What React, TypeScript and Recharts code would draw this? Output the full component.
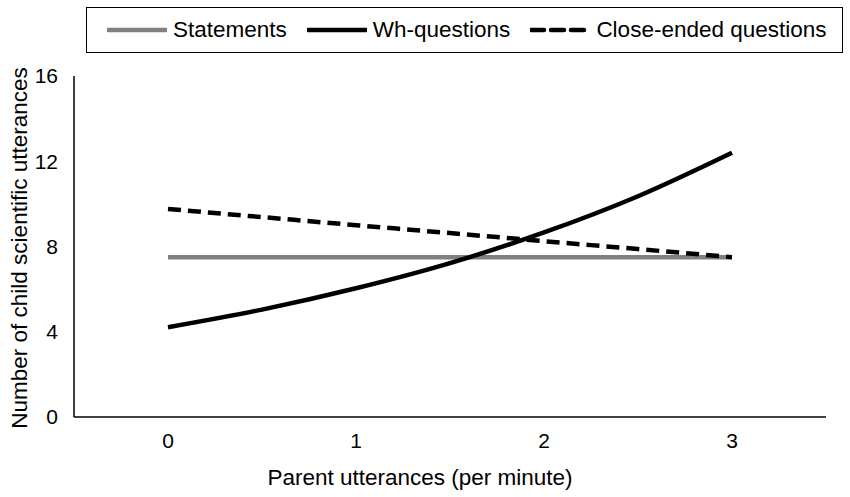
import React from 'react';
import { LineChart, Line, XAxis, YAxis } from 'recharts';

// values
const parentRate = [0, 0.5, 1, 1.5, 2, 2.5, 3];
const statements = [7.49, 7.49, 7.49, 7.49, 7.49, 7.49, 7.49];
const whQuestions = [4.21, 5.04, 6.04, 7.22, 8.66, 10.36, 12.4];
const closeEnded = [9.76, 9.38, 9.0, 8.63, 8.25, 7.88, 7.5];

const xTicks = [0, 1, 2, 3];
const yTicks = [0, 4, 8, 12, 16];

const FONT = 'Liberation Sans, Arial, sans-serif';

const data = parentRate.map((x, i) => ({
  x,
  statements: statements[i],
  wh: whQuestions[i],
  closed: closeEnded[i],
}));

const legendItems = [
  { name: 'Statements', color: '#808080', dash: undefined },
  { name: 'Wh-questions', color: '#000', dash: undefined },
  { name: 'Close-ended questions', color: '#000', dash: '13 7' },
];

// legend box sits above the plot, drawn as plain html on top of the chart
const ChartLegend = () => (
  <div
    style={{
      position: 'absolute',
      left: 86,
      top: 7,
      boxSizing: 'border-box',
      width: 757,
      height: 46,
      border: '1.5px solid #000',
      display: 'flex',
      alignItems: 'center',
      paddingLeft: 20,
      fontFamily: FONT,
      fontSize: 22.5,
      color: '#000',
    }}
  >
    {legendItems.map((it, i) => (
      <div key={it.name} style={{ display: 'flex', alignItems: 'center', marginRight: i < 2 ? 20 : 0 }}>
        <svg width={60} height={10} style={{ marginRight: 6 }}>
          <line x1={1} y1={5} x2={59} y2={5} stroke={it.color} strokeWidth={4.5} strokeDasharray={it.dash} strokeLinecap="round" />
        </svg>
        <span>{it.name}</span>
      </div>
    ))}
  </div>
);

const YLabel = () => (
  <text x={27} y={248} transform="rotate(-90, 27, 248)" textAnchor="middle" fontFamily={FONT} fontSize={22.5} fill="#000">
    Number of child scientific utterances
  </text>
);

const XLabel = () => (
  <text x={420} y={485} textAnchor="middle" fontFamily={FONT} fontSize={22.5} fill="#000">
    Parent utterances (per minute)
  </text>
);

export default function App() {
  return (
    <div style={{ position: 'absolute', left: 0, top: 0, width: 850, height: 497, background: '#fff' }}>
      <LineChart width={850} height={497} data={data} margin={{ top: 76, right: 24, bottom: 50, left: 0 }}>
        <XAxis
          dataKey="x"
          type="number"
          domain={[-0.5, 3.5]}
          ticks={xTicks}
          height={30}
          tickLine={false}
          axisLine={{ stroke: '#000', strokeWidth: 1.5 }}
          tick={{ fill: '#000', fontSize: 21, fontFamily: FONT }}
          tickMargin={10}
          label={{ content: () => <XLabel /> }}
        />
        <YAxis
          type="number"
          domain={[0, 16]}
          ticks={yTicks}
          width={74}
          tickLine={false}
          axisLine={{ stroke: '#000', strokeWidth: 1.5 }}
          tick={{ fill: '#000', fontSize: 21, fontFamily: FONT }}
          tickMargin={10}
          label={{ content: () => <YLabel /> }}
        />
        <Line type="monotone" dataKey="statements" stroke="#808080" strokeWidth={4.5} dot={false} isAnimationActive={false} />
        <Line type="monotone" dataKey="closed" stroke="#000" strokeWidth={4.5} strokeDasharray="13 7" dot={false} isAnimationActive={false} />
        <Line type="monotone" dataKey="wh" stroke="#000" strokeWidth={4.5} dot={false} isAnimationActive={false} />
      </LineChart>
      <ChartLegend />
    </div>
  );
}
